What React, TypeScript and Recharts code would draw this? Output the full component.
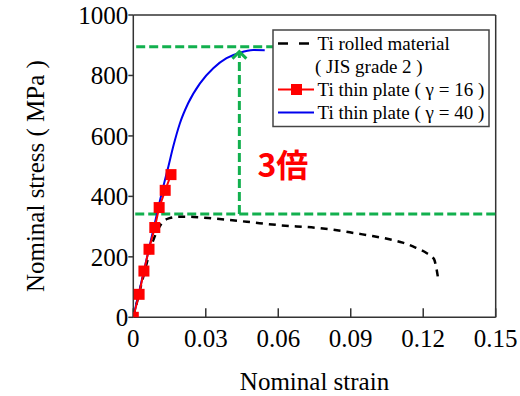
import React from 'react';
import {
  LineChart, Line, XAxis, YAxis, ReferenceLine, ReferenceDot,
} from 'recharts';

// ---- data ----
const xTicks = [0, 0.03, 0.06, 0.09, 0.12, 0.15];
const xTickLabels = ['0', '0.03', '0.06', '0.09', '0.12', '0.15'];
const yTicks = [0, 200, 400, 600, 800, 1000];

const rolledStrain = [0, 0.004, 0.0085, 0.0105, 0.0125, 0.015, 0.019, 0.025, 0.033, 0.047, 0.06, 0.077, 0.085, 0.092, 0.099, 0.106, 0.1115, 0.117, 0.1215, 0.1245, 0.1255, 0.1262];
const rolledStress = [0, 130, 260, 295, 318, 328, 333, 332, 327, 316, 305, 295, 287, 278, 269, 258, 247, 230, 212, 192, 160, 127];

const g16Strain = [0, 0.0024, 0.0044, 0.0065, 0.0089, 0.0107, 0.0132, 0.0156];
const g16Stress = [0, 76, 153, 225, 297, 363, 420, 472];

const g40Strain = [0, 0.004, 0.008, 0.0124, 0.0145, 0.0165, 0.0193, 0.0227, 0.0276, 0.0331, 0.0386, 0.0441, 0.0496, 0.0544];
const g40Stress = [0, 140, 280, 432, 498, 564, 642, 708, 774, 824, 857, 875, 884, 883];

const topStress = 895;
const yieldStress = 342;
const arrowStrain = 0.0439;
const arrowTip = 879;
const topLineEnd = 0.058;
const ratioLabel = '3倍';
const ratioPos = { x: 0.0619, y: 512 };

const legendItems = [
  'Ti rolled material',
  '( JIS grade 2 )',
  'Ti thin plate ( γ = 16 )',
  'Ti thin plate ( γ = 40 )',
];

const zip = (xs: number[], ys: number[]) => xs.map((x, i) => ({ x, y: ys[i] }));
const rolledData = zip(rolledStrain, rolledStress);
const g16Data = zip(g16Strain, g16Stress);
const g40Data = zip(g40Strain, g40Stress);

const SERIF = "'Liberation Serif', 'Times New Roman', 'DejaVu Serif', serif";
const GREEN = '#12b04e';
const AXIS = '#333333';

const SquareDot = (props: any) => {
  const { cx, cy } = props;
  if (cx == null || cy == null) return null;
  return <rect x={cx - 5.5} y={cy - 5.5} width={11} height={11} fill="#ff0000" />;
};

const ArrowHead = (props: any) => {
  const { cx, cy } = props;
  return (
    <polyline
      points={`${cx - 7},${cy + 7} ${cx},${cy} ${cx + 7},${cy + 7}`}
      fill="none"
      stroke={GREEN}
      strokeWidth={3}
    />
  );
};

const RatioText = (props: any) => {
  const { cx, cy } = props;
  return (
    <text
      x={cx}
      y={cy}
      textAnchor="middle"
      dominantBaseline="central"
      fill="#ff0000"
      fontSize={32}
      fontWeight="bold"
      style={{ fontFamily: "'Noto Sans CJK JP', 'Noto Sans', sans-serif" }}
    >
      {ratioLabel}
    </text>
  );
};

const Legend = () => (
  <svg
    width={218}
    height={99}
    style={{ position: 'absolute', left: 272, top: 28.5, fontFamily: SERIF }}
  >
    <rect x={1} y={1} width={216} height={96.5} fill="#ffffff" stroke="#444" strokeWidth={1.5} />
    <line x1={6} x2={38} y1={14.5} y2={14.5} stroke="#000" strokeWidth={2.5} strokeDasharray="10 11" />
    <line x1={6} x2={42} y1={60.5} y2={60.5} stroke="#ff0000" strokeWidth={2} />
    <rect x={19} y={55} width={11} height={11} fill="#ff0000" />
    <line x1={6} x2={42} y1={83.5} y2={83.5} stroke="#0000ee" strokeWidth={2} />
    {legendItems.map((t, i) => (
      <text
        key={i}
        x={i === 1 ? 43 : 45.5}
        y={[14.5, 37.5, 60.5, 83.5][i]}
        dominantBaseline="central"
        style={{ fontFamily: SERIF }}
        fontSize={19}
        fill="#000"
      >
        {t}
      </text>
    ))}
  </svg>
);

const tickStyle = { fill: '#000', fontSize: 25, fontFamily: SERIF, style: { fontFamily: SERIF } };

export default function App() {
  return (
    <div style={{ position: 'absolute', left: 0, top: 0, width: 520, height: 396, background: '#fff', fontFamily: SERIF }}>
      <LineChart
        width={520}
        height={396}
        margin={{ top: 15, right: 24.3, bottom: 18.7, left: 0 }}
        style={{ fontFamily: SERIF }}
      >
        <XAxis
          dataKey="x"
          type="number"
          domain={[0, 0.15]}
          ticks={xTicks}
          tickFormatter={(v: number) => xTickLabels[xTicks.indexOf(v)] ?? String(v)}
          allowDataOverflow
          height={60}
          tickSize={-9}
          tickMargin={21}
          stroke={AXIS}
          strokeWidth={1.5}
          tick={tickStyle}
          label={{
            content: (p: any) => {
              const vb = p.viewBox;
              return (
                <text x={vb.x + vb.width / 2} y={vb.y + 72.7} textAnchor="middle" style={{ fontFamily: SERIF }} fontSize={25} fill="#000">
                  Nominal strain
                </text>
              );
            },
          }}
        />
        <YAxis
          type="number"
          domain={[0, 1000]}
          ticks={yTicks}
          allowDataOverflow
          width={133.3}
          tickSize={5}
          tickMargin={0}
          stroke={AXIS}
          strokeWidth={1.5}
          tick={tickStyle}
          label={{
            content: (p: any) => {
              const vb = p.viewBox;
              const x = 44.5;
              const y = vb.y + vb.height / 2 + 10;
              return (
                <text x={x} y={y} textAnchor="middle" transform={`rotate(-90 ${x} ${y})`} style={{ fontFamily: SERIF }} fontSize={25} fill="#000">
                  Nominal stress ( MPa )
                </text>
              );
            },
          }}
        />
        <ReferenceLine y={1000} stroke={AXIS} strokeWidth={1.5} />
        <ReferenceLine x={0.15} stroke={AXIS} strokeWidth={1.5} />

        <ReferenceLine
          segment={[{ x: 0.0008, y: yieldStress }, { x: 0.1508, y: yieldStress }]}
          stroke={GREEN}
          strokeWidth={3}
          strokeDasharray="9 4"
          ifOverflow="visible"
        />
        <ReferenceLine
          segment={[{ x: 0.0012, y: topStress }, { x: topLineEnd, y: topStress }]}
          stroke={GREEN}
          strokeWidth={3}
          strokeDasharray="9 4"
          ifOverflow="visible"
        />
        <ReferenceLine
          segment={[{ x: arrowStrain, y: yieldStress }, { x: arrowStrain, y: arrowTip }]}
          stroke={GREEN}
          strokeWidth={3}
          strokeDasharray="9 4"
        />
        <ReferenceDot x={arrowStrain} y={arrowTip} r={0} shape={ArrowHead} />
        <ReferenceDot x={ratioPos.x} y={ratioPos.y} r={0} shape={RatioText} />

        <Line
          data={rolledData}
          dataKey="y"
          type="monotone"
          stroke="#000"
          strokeWidth={2.5}
          strokeDasharray="7 6"
          dot={false}
          isAnimationActive={false}
        />
        <Line
          data={g40Data}
          dataKey="y"
          type="monotone"
          stroke="#0000ee"
          strokeWidth={2}
          dot={false}
          isAnimationActive={false}
        />
        <Line
          data={g16Data}
          dataKey="y"
          type="linear"
          stroke="#ff0000"
          strokeWidth={2}
          dot={<SquareDot />}
          isAnimationActive={false}
        />
      </LineChart>
      <Legend />
    </div>
  );
}
